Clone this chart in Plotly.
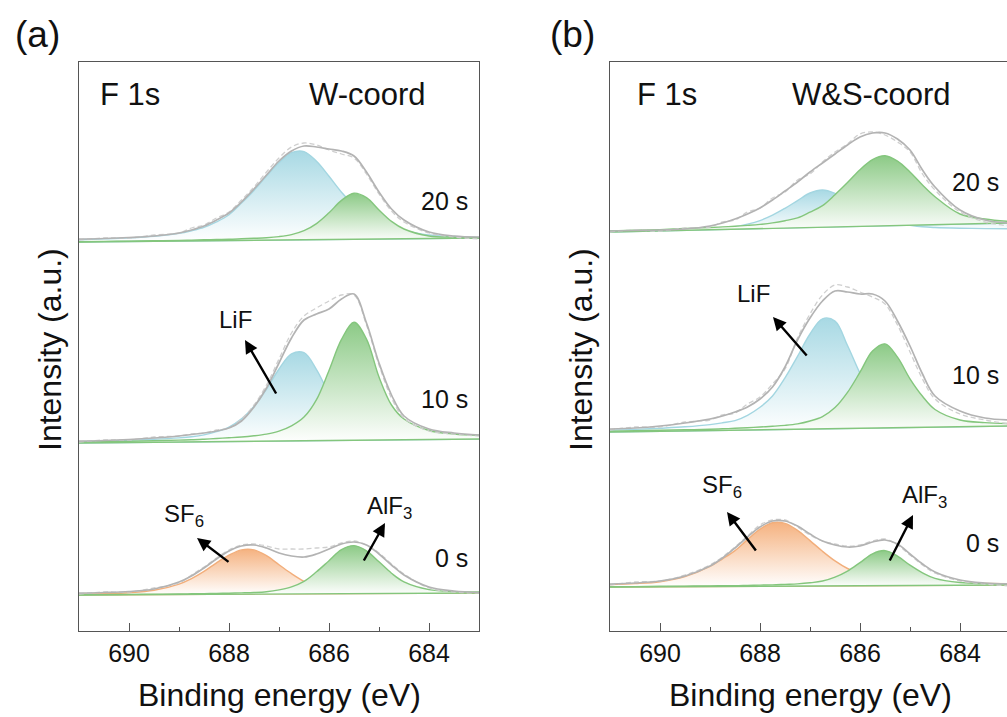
import plotly.graph_objects as go

# ---------------- data ----------------
E = [691.0, 690.5, 690.0, 689.5, 689.0, 688.75, 688.5, 688.25, 688.0, 687.75, 687.5, 687.25,
     687.0, 686.75, 686.5, 686.25, 686.0, 685.75, 685.5, 685.25, 685.0, 684.75, 684.5, 684.0,
     683.5, 683.0]
BG_E = [691.0, 683.0]
TIME_LABELS = ["0 s", "10 s", "20 s"]

# panel (a) W-coord : baseline offsets of stacked spectra (a.u.)
a_offsets = [36, 188, 389]
a0_bg = [0, 2]
a0_sf6 = [0.9, 1.4, 2.3, 4.7, 10.9, 16.4, 23.6, 32.2, 39.8, 45.1, 45.1, 39.3, 30.3, 21.3, 13.7, 8.8,
          5.8, 4.2, 3.4, 2.9, 2.7, 2.7, 2.5, 2.5, 2.4, 2.4]
a0_alf3 = [0.2, 0.4, 0.6, 0.8, 1.0, 1.2, 1.3, 1.6, 1.8, 2.1, 2.5, 3.3, 5.1, 8.1, 13.6, 23.2, 34.3,
           45.3, 49.4, 44.2, 33.2, 21.8, 13.1, 5.4, 3.4, 3.0]
a0_env = [2, 2.5, 3.5, 6, 13, 19, 27, 36, 44, 49, 50, 47, 42, 39, 38, 41, 46, 51, 53, 50, 41, 30,
          20, 8, 4, 2.5]
a0_raw = [1, 3, 3, 7, 12, 20, 28, 37, 45, 50, 51, 49, 46, 46, 46, 47, 48, 52, 54, 50, 42, 31, 21,
          7, 3, 2]

a10_bg = [0, 4]
a10_lif = [1.4, 1.9, 2.8, 3.7, 5.1, 6.2, 8.1, 11.3, 15.9, 24.1, 36.8, 53.9, 74.0, 89.1, 90.3, 73.4,
           49.5, 30.6, 18.8, 12.9, 9.5, 7.8, 7.0, 6.0, 5.5, 5.4]
a10_alf3 = [0.8, 1.2, 1.7, 2.2, 2.9, 3.2, 3.8, 4.5, 5.2, 6.0, 7.2, 8.9, 11.8, 17.1, 25.9, 43.4, 72.5,
            103.6, 120.8, 103.9, 66.0, 38.0, 24.0, 12.5, 9.0, 7.7]
a10_env = [2, 2.5, 3.5, 5, 7, 8.5, 10, 12, 15, 22, 36, 55, 80, 105, 123, 129, 134, 144, 149, 120,
           80, 48, 27, 14, 10, 8]
a10_raw = [1, 3, 3, 6, 7, 9, 10, 13, 15, 24, 38, 58, 84, 110, 127, 135, 142, 148, 148, 118, 78, 45,
           25, 12, 9, 7]

a20_bg = [0, 4]
a20_lif = [2.3, 3.1, 4.1, 5.7, 8.6, 11.3, 14.7, 20.1, 27.3, 39.0, 51.6, 65.9, 79.4, 89.3, 90.4, 80.7,
           65.7, 49.8, 36.6, 26.0, 19.0, 14.2, 11.3, 7.0, 5.5, 4.5]
a20_alf3 = [0.3, 0.6, 0.9, 1.3, 1.6, 1.8, 2.2, 2.5, 2.7, 3.2, 3.7, 4.3, 5.4, 7.4, 11.3, 18.4, 29.2,
            41.6, 48.8, 44.3, 32.0, 20.6, 13.0, 6.0, 4.8, 4.3]
a20_env = [3, 3.5, 4.5, 6, 9, 12, 16, 22, 29, 40, 53, 67, 81, 91, 96, 95, 93, 91, 86, 70, 50, 33,
           22, 10, 6, 5]
a20_raw = [2, 4, 4, 7, 9, 14, 17, 24, 30, 42, 55, 70, 84, 95, 99, 97, 92, 88, 84, 68, 48, 31, 20,
           9, 5, 3]

# panel (b) W&S-coord
b_offsets = [44, 199, 399]
b0_bg = [0, 2]
b0_sf6 = [2.4, 3.4, 5.3, 10.4, 20.5, 28.2, 36.4, 47.4, 57.8, 64.2, 63.6, 56.7, 46.4, 35.7, 26.1,
          18.5, 13.5, 9.6, 7.8, 6.4, 5.3, 4.8, 4.3, 3.8, 3.5, 3.3]
b0_alf3 = [0.3, 0.4, 0.7, 0.9, 1.1, 1.3, 1.3, 1.6, 1.9, 2.1, 2.6, 3.1, 4.2, 6.0, 9.9, 15.9, 24.4,
           33.2, 36.4, 30.9, 21.8, 14.2, 8.6, 4.5, 3.4, 3.0]
b0_env = [3, 4, 6, 11, 21, 29, 39, 50, 60, 66, 66, 61, 53, 46, 42, 40, 41, 45, 47, 43, 33, 23, 15,
          7, 4, 3]
b0_raw = [2, 5, 6, 12, 22, 30, 40, 51, 62, 67, 67, 60, 52, 46, 43, 41, 42, 46, 48, 42, 32, 22, 14,
          6, 3, 1]

b10_bg = [0, 6]
b10_lif = [1.8, 2.6, 3.8, 5.2, 7.4, 9.2, 11.4, 16.7, 24.7, 36.0, 54.1, 75.6, 98.0, 113.2, 110.9,
           86.5, 58.7, 35.3, 23.1, 15.5, 12.3, 10.3, 9.4, 8.4, 7.7, 7.7]
b10_alf3 = [0.7, 1.2, 1.7, 2.2, 2.8, 3.2, 3.7, 4.3, 5.0, 5.7, 6.6, 8.1, 11.0, 15.4, 24.4, 39.6,
            59.8, 80.9, 88.1, 74.9, 53.2, 35.7, 22.5, 12.0, 9.4, 8.5]
b10_env = [3, 4, 6, 9, 13, 16, 20, 25, 33, 45, 65, 92, 114, 131, 141, 140, 138, 138, 131, 111, 86,
           58, 36, 21, 14, 12]
b10_raw = [2, 5, 5, 10, 12, 17, 19, 28, 35, 48, 63, 94, 118, 137, 147, 145, 140, 135, 128, 107, 80,
           53, 33, 18, 12, 8]

b20_bg = [0, 9]
b20_lif = [0.8, 1.1, 1.6, 2.2, 3.2, 4.2, 5.4, 7.9, 11.4, 16.8, 23.7, 31.4, 39.0, 42.0, 38.7, 32.0,
           24.5, 17.7, 12.2, 8.7, 6.7, 5.2, 4.5, 3.8, 3.4, 3.2]
b20_alf3 = [1.0, 1.7, 2.4, 3.5, 4.5, 5.1, 5.8, 6.6, 7.6, 9.1, 11.3, 14.1, 19.9, 26.4, 37.3, 49.4,
            62.3, 72.4, 76.2, 70.9, 60.0, 47.0, 35.3, 18.0, 13.0, 10.5]
b20_env = [1, 1.5, 2, 3, 6, 9, 13, 18, 24, 32, 41, 50, 60, 69, 78, 87, 95, 99, 99, 93, 82, 62, 45,
           22, 12, 9]
b20_raw = [0, 2, 1, 4, 5, 10, 12, 20, 24, 34, 40, 52, 58, 70, 80, 88, 98, 100, 97, 90, 80, 58, 42,
           20, 10, 6]

# ---------------- styles ----------------
COL = {
    "lif": ("#A3D6E1", "rgb(168,217,228)"),
    "alf3": ("#84C67D", "rgb(140,202,134)"),
    "sf6": ("#F2AE7B", "rgb(245,178,128)"),
}
ENV_COL = "#B3B3B3"
RAW_COL = "#CFCFCF"
AX_COL = "#555555"
FONT = "Arial, Liberation Sans, sans-serif"
W, H = 1007, 717

fig = go.Figure()


def add_component(xa, ya, off, bg, vals, kind):
    line_col, fill_col = COL[kind]
    fig.add_trace(go.Scatter(x=BG_E, y=[off + v for v in bg], mode="lines", xaxis=xa, yaxis=ya,
                             line=dict(color=line_col, width=1.4), hoverinfo="skip",
                             showlegend=False))
    fig.add_trace(go.Scatter(x=E, y=[off + v for v in vals], mode="lines", xaxis=xa, yaxis=ya,
                             line=dict(color=line_col, width=1.4, shape="spline", smoothing=1.0),
                             fill="tonexty",
                             fillgradient=dict(type="vertical",
                                               colorscale=[[0, "rgba(255,255,255,1)"],
                                                           [1, fill_col]]),
                             hoverinfo="skip", showlegend=False))


def add_lines(xa, ya, off, env, raw):
    fig.add_trace(go.Scatter(x=E, y=[off + v for v in raw], mode="lines", xaxis=xa, yaxis=ya,
                             line=dict(color=RAW_COL, width=1.3, dash="5px,3px", shape="spline"),
                             hoverinfo="skip", showlegend=False))
    fig.add_trace(go.Scatter(x=E, y=[off + v for v in env], mode="lines", xaxis=xa, yaxis=ya,
                             line=dict(color=ENV_COL, width=1.7, shape="spline", smoothing=1.0),
                             hoverinfo="skip", showlegend=False))


# panel a
add_component("x", "y", a_offsets[0], a0_bg, a0_sf6, "sf6")
add_component("x", "y", a_offsets[0], a0_bg, a0_alf3, "alf3")
add_lines("x", "y", a_offsets[0], a0_env, a0_raw)
add_component("x", "y", a_offsets[1], a10_bg, a10_lif, "lif")
add_component("x", "y", a_offsets[1], a10_bg, a10_alf3, "alf3")
add_lines("x", "y", a_offsets[1], a10_env, a10_raw)
add_component("x", "y", a_offsets[2], a20_bg, a20_lif, "lif")
add_component("x", "y", a_offsets[2], a20_bg, a20_alf3, "alf3")
add_lines("x", "y", a_offsets[2], a20_env, a20_raw)
# panel b
add_component("x2", "y2", b_offsets[0], b0_bg, b0_sf6, "sf6")
add_component("x2", "y2", b_offsets[0], b0_bg, b0_alf3, "alf3")
add_lines("x2", "y2", b_offsets[0], b0_env, b0_raw)
add_component("x2", "y2", b_offsets[1], b10_bg, b10_lif, "lif")
add_component("x2", "y2", b_offsets[1], b10_bg, b10_alf3, "alf3")
add_lines("x2", "y2", b_offsets[1], b10_env, b10_raw)
add_component("x2", "y2", b_offsets[2], b20_bg, b20_lif, "lif")
add_component("x2", "y2", b_offsets[2], b20_bg, b20_alf3, "alf3")
add_lines("x2", "y2", b_offsets[2], b20_env, b20_raw)

# ---------------- axes ----------------
PX_PER_EV = 50.0
xa_left, xa_right = 79, 479
xb_left = 610
y_top, y_bot = 62, 631

xcommon = dict(showgrid=False, zeroline=False, showline=True, linecolor=AX_COL, linewidth=1.3,
               mirror=True, ticks="inside", ticklen=8, tickwidth=1.2, tickcolor=AX_COL,
               tickvals=[690, 688, 686, 684], tickfont=dict(family=FONT, size=25, color="#111"),
               minor=dict(tickvals=[691, 689, 687, 685, 683], ticks="inside", ticklen=4,
                          tickwidth=1.1, tickcolor=AX_COL))
fig.update_layout(
    xaxis=dict(domain=[xa_left / W, xa_right / W], range=[691, 691 - (xa_right - xa_left) / PX_PER_EV],
               anchor="y", **xcommon),
    xaxis2=dict(domain=[xb_left / W, 1.0], range=[691, 691 - (W - xb_left) / PX_PER_EV],
                anchor="y2", **xcommon),
)
ycommon = dict(domain=[(H - y_bot) / H, (H - y_top) / H], range=[0, y_bot - y_top],
               showgrid=False, zeroline=False, showticklabels=False, ticks="",
               showline=True, linecolor=AX_COL, linewidth=1.3)
fig.update_layout(yaxis=dict(anchor="x", mirror=True, **ycommon),
                  yaxis2=dict(anchor="x2", mirror=False, **ycommon))


def px(x):
    return x / W


def py(y):
    return (H - y) / H


ann = []


def text(x, y, s, size, xanchor="left"):
    ann.append(dict(x=px(x), y=py(y), xref="paper", yref="paper", text=s, showarrow=False,
                    xanchor=xanchor, yanchor="middle", font=dict(family=FONT, size=size, color="#111")))


def arrow(hx, hy, tx, ty):
    ann.append(dict(x=px(hx), y=py(hy), xref="paper", yref="paper", ax=tx - hx, ay=ty - hy,
                    axref="pixel", ayref="pixel", text="", showarrow=True, arrowhead=2,
                    arrowsize=1.1, arrowwidth=2.4, arrowcolor="#000", standoff=0))


text(37, 35, "(a)", 37, "center")
text(572, 35, "(b)", 37, "center")
text(98, 95, "F 1s", 31)
text(367, 95, "W-coord", 31, "center")
text(635, 95, "F 1s", 31)
text(871, 95, "W&amp;S-coord", 31, "center")
for lab, yy in zip(TIME_LABELS, [558, 399, 201]):
    text(470, yy, lab, 25, "right")
for lab, yy in zip(TIME_LABELS, [543, 375, 182]):
    text(1001, yy, lab, 25, "right")
text(217, 319, "LiF", 24)
text(735, 293, "LiF", 24)
text(162, 515, "SF<sub>6</sub>", 24)
text(365, 507, "AlF<sub>3</sub>", 24)
text(700, 486, "SF<sub>6</sub>", 24)
text(900, 496, "AlF<sub>3</sub>", 24)
arrow(245, 340, 277, 395)
arrow(197, 538, 230, 563)
arrow(385, 523, 363, 562)
arrow(773, 317, 808, 357)
arrow(727, 512, 757, 552)
arrow(913, 515, 889, 562)
text(279, 695, "Binding energy (eV)", 32, "center")
text(810, 695, "Binding energy (eV)", 32, "center")
for xx in (50, 581):
    ann.append(dict(x=px(xx), y=py(350), xref="paper", yref="paper", text="Intensity (a.u.)",
                    showarrow=False, textangle=-90, xanchor="center", yanchor="middle",
                    font=dict(family=FONT, size=32, color="#111")))

fig.update_layout(width=W, height=H, margin=dict(l=0, r=0, t=0, b=0), autosize=False,
                  paper_bgcolor="white", plot_bgcolor="white", showlegend=False,
                  annotations=ann, font=dict(family=FONT))

fig.write_html("out.html")
